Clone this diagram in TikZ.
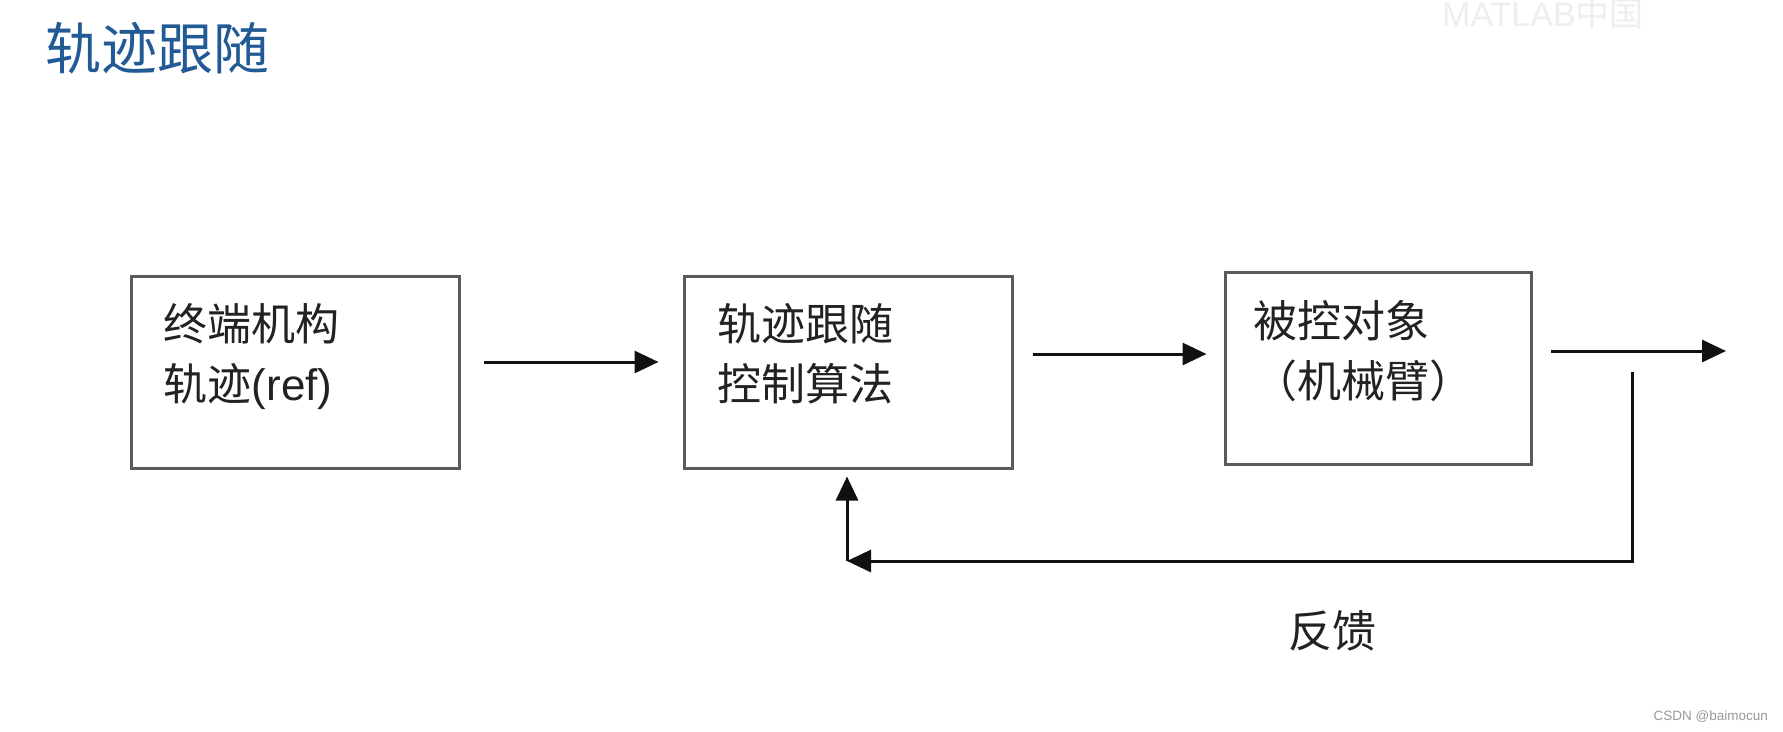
\documentclass[tikz,border=0pt]{standalone}
\usepackage{fontspec}
\setmainfont{Liberation Sans}
\newfontfamily\cjkfont{Noto Sans CJK SC}
\usetikzlibrary{
  arrows.meta,
  positioning
}
\definecolor{Ink}{HTML}{111111}
\definecolor{BoxInk}{HTML}{5A5A5A}
\definecolor{TextInk}{HTML}{222222}
\definecolor{TitleBlue}{HTML}{225A96}
\definecolor{CreditGray}{HTML}{9A9A9A}
\definecolor{WaterGray}{HTML}{EEEEEE}
\newcommand{\diagramtitlefont}{\cjkfont\fontsize{56}{60}\selectfont}
\newcommand{\diagramboxfont}{\cjkfont\fontsize{44}{60}\selectfont}
\newcommand{\diagramnotefont}{\cjkfont\fontsize{44}{50}\selectfont}
\newcommand{\diagramcreditfont}{\fontsize{13.5}{16}\selectfont}
\newcommand{\diagrammarkfont}{\fontsize{34}{38}\selectfont}
\tikzset{
  % One pt in the picture is one pixel of the screenshot.
  block/.style={
    draw=BoxInk,
    line width=3pt,
    fill=white,
    minimum width=#1,
    minimum height=192pt,
    inner sep=0pt
  },
  block/.default=328pt,
  block text/.style={
    anchor=north west,
    align=left,
    inner sep=0pt,
    font=\diagramboxfont,
    text=TextInk
  },
  page title/.style={
    anchor=north west,
    inner sep=0pt,
    font=\diagramtitlefont,
    text=TitleBlue
  },
  note/.style={
    inner sep=0pt,
    font=\diagramnotefont,
    text=TextInk
  },
  credit/.style={
    inner sep=0pt,
    font=\diagramcreditfont,
    text=CreditGray
  },
  watermark/.style={
    inner sep=0pt,
    font=\diagrammarkfont,
    text=WaterGray
  },
  flow/.style={
    -{Triangle[length=24pt,width=22pt]},
    draw=Ink,
    line width=3pt
  }
}

\begin{document}
\begin{tikzpicture}[x=1pt,y=-1pt]

\path[use as bounding box, fill=white] (0,0) rectangle (1783,731);

% ---------------------------------------------------------------------------
% Page furniture
% ---------------------------------------------------------------------------
\node[page title] (pageTitle) at (45,22) {轨迹跟随};
\node[watermark, anchor=north west] (matlabMark) at (1442,-2)
  {MATLAB{\cjkfont 中国}};
\node[credit, anchor=south east] (csdnCredit) at (1768,723) {CSDN @baimocun};

% ---------------------------------------------------------------------------
% Blocks
% ---------------------------------------------------------------------------
\node[block] (refBox) at (295,372) {};
\node[block] (ctrlBox) at (848,372) {};
\node[block=306pt] (plantBox) at (1378,368) {};

\node[block text] (refText) at ([xshift=34pt,yshift=-29pt]refBox.north west)
  {终端机构\\轨迹{\rmfamily(ref)}};
\node[block text] (ctrlText) at ([xshift=35pt,yshift=-29pt]ctrlBox.north west)
  {轨迹跟随\\控制算法};
\node[block text] (plantText) at ([xshift=30pt,yshift=-30pt]plantBox.north west)
  {被控对象\\（机械臂）};

% ---------------------------------------------------------------------------
% Forward path
% ---------------------------------------------------------------------------
\draw[flow, shorten <=23pt, shorten >=24pt]
  ([yshift=10pt]refBox.east) -- ([yshift=10pt]ctrlBox.west);
\draw[flow, shorten <=19pt, shorten >=17pt]
  ([yshift=18pt]ctrlBox.east) -- ([yshift=18pt]ctrlBox.east -| plantBox.west);

\coordinate (outEnd) at (1726,351);
\draw[flow, shorten <=18pt] (plantBox.east |- outEnd) -- (outEnd);

% ---------------------------------------------------------------------------
% Feedback path
% ---------------------------------------------------------------------------
\coordinate (fbStart) at (1632,372);
\coordinate (fbCorner) at (1632,561);
\coordinate (fbEnd) at (847,561);
\draw[flow] (fbStart) -- (fbCorner) -- (fbEnd);
\draw[flow, shorten >=7pt] (fbEnd) -- (fbEnd |- ctrlBox.south);

\node[note] (fbLabel) at (1332,631) {反馈};

\end{tikzpicture}
\end{document}
